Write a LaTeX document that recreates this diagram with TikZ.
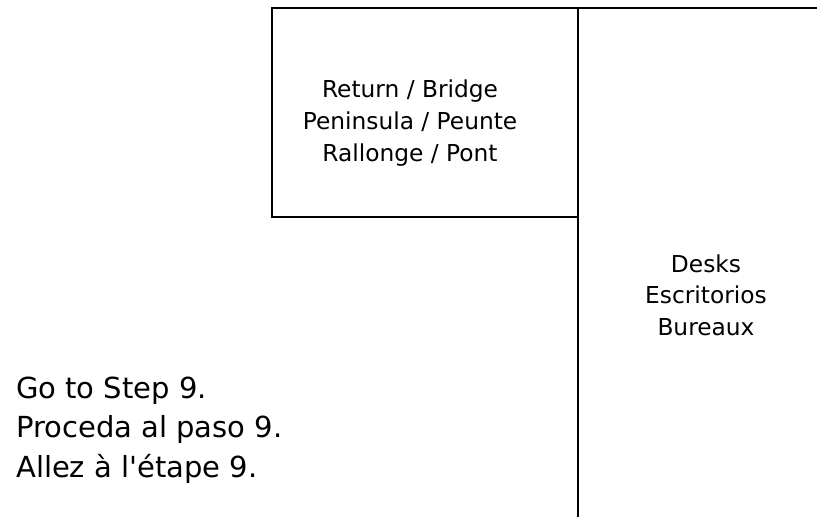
\documentclass[tikz,border=0pt]{standalone}
\usepackage{fontspec}
\setmainfont{DejaVu Sans}
\begin{document}
\begin{tikzpicture}[x=1pt,y=-1pt,
  wall/.style={draw=black,line width=1.8pt},
  boxlabel/.style={inner sep=0pt,align=center,font=\fontsize{23.3}{32}\selectfont},
  desklabel/.style={inner sep=0pt,align=center,font=\fontsize{23.3}{31.6}\selectfont},
  steplabel/.style={inner sep=0pt,align=left,font=\fontsize{29}{39.5}\selectfont}]
\useasboundingbox[fill=white] (0,0) rectangle (817,517);
% return / bridge box
\draw[wall] (272,217) -- (272,8) -- (578,8) -- (578,217) -- cycle;
% desks outline
\draw[wall] (817,8) -- (578,8) -- (578,517);
\node[boxlabel] (ret) at (410,123) {Return / Bridge\\Peninsula / Peunte\\Rallonge / Pont};
\node[desklabel] (desks) at (706,295) {Desks\\Escritorios\\Bureaux};
\node[steplabel,anchor=west] (go) at (16,430.2) {Go to Step 9.\\Proceda al paso 9.\\Allez à l\textquotesingle étape 9.};
\end{tikzpicture}
\end{document}
